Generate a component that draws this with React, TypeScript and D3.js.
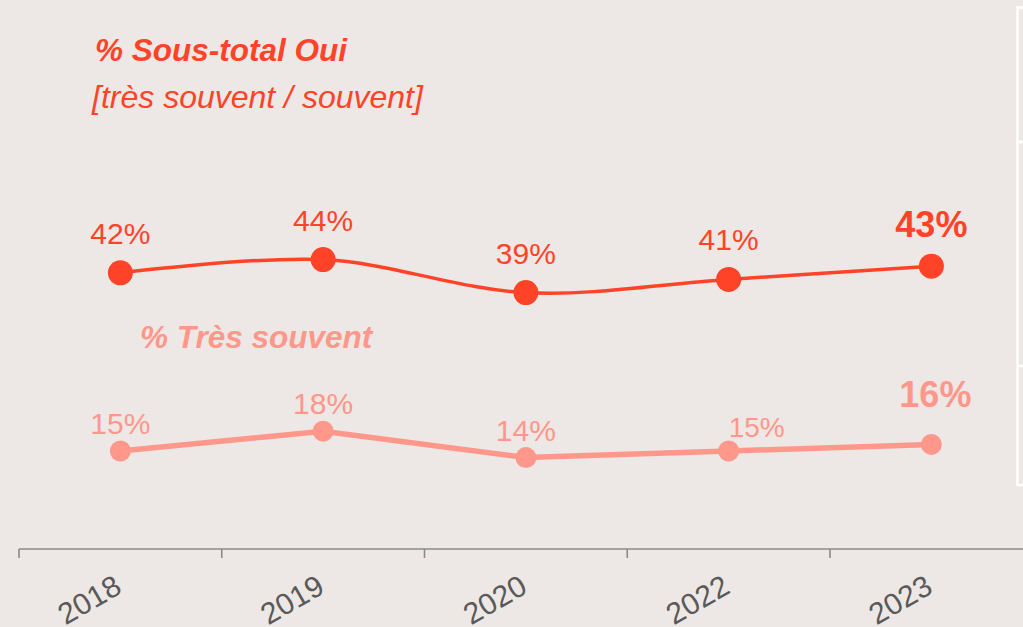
import React from "react";
import * as d3 from "d3";

const years = ["2018", "2019", "2020", "2022", "2023"];
const sousTotalOui = [42, 44, 39, 41, 43];
const tresSouvent = [15, 18, 14, 15, 16];
const title1 = "% Sous-total Oui";
const title2 = "[très souvent / souvent]";
const title3 = "% Très souvent";

const W = 1023;
const H = 627;
const BG = "#EDE8E5";
const RED = "#FF4328";
const SALMON = "#FF978A";
const FONT = "'Liberation Sans', Arial, sans-serif";

export default function App() {
  const x = d3.scaleBand<string>().domain(years).range([19, 19 + 5 * 202.75]).padding(0);
  const y = d3.scaleLinear().domain([0, 50]).range([550, 220]);
  const cx = (d: string) => (x(d) ?? 0) + x.bandwidth() / 2;

  const smooth = d3
    .line<number>()
    .x((_, i) => cx(years[i]))
    .y((d) => y(d))
    .curve(d3.curveCardinal.tension(0));
  const straight = d3
    .line<number>()
    .x((_, i) => cx(years[i]))
    .y((d) => y(d));

  const last = years.length - 1;
  const axisY = 549;
  const ticks = [...years.map((d) => x(d) ?? 0), (x(years[last]) ?? 0) + x.bandwidth()];

  return (
    <svg width={W} height={H} style={{ position: "fixed", left: 0, top: 0 }}>
      <rect x={0} y={0} width={W} height={H} fill={BG} />
      {/* right-edge frame */}
      <rect x={1017.5} y={7.5} width={20} height={477.5} fill="none" stroke="#ffffff" strokeWidth={2.5} />
      <line x1={1017.5} x2={1030} y1={142} y2={142} stroke="#ffffff" strokeWidth={3} />
      <line x1={1017.5} x2={1030} y1={366} y2={366} stroke="#ffffff" strokeWidth={2.5} />

      {/* titles */}
      <text x={95} y={61} fill={RED} fontFamily={FONT} fontSize={31.5} fontWeight="bold" fontStyle="italic">
        {title1}
      </text>
      <text x={92} y={108} fill={RED} fontFamily={FONT} fontSize={32} fontStyle="italic">
        {title2}
      </text>
      <text x={140} y={348} fill={SALMON} fontFamily={FONT} fontSize={31.5} fontWeight="bold" fontStyle="italic">
        {title3}
      </text>

      {/* axis */}
      <line x1={19} x2={W} y1={axisY} y2={axisY} stroke="#8a8a8a" strokeWidth={1.6} />
      {ticks.map((t, i) => (
        <line key={i} x1={t} x2={t} y1={axisY} y2={axisY + 9} stroke="#8a8a8a" strokeWidth={1.6} />
      ))}
      {years.map((d) => (
        <text
          key={d}
          transform={`translate(${cx(d) + 3},${592}) rotate(-30)`}
          textAnchor="end"
          fill="#595959"
          fontFamily={FONT}
          fontSize={30}
        >
          {d}
        </text>
      ))}

      {/* Sous-total Oui */}
      <path d={smooth(sousTotalOui) ?? ""} fill="none" stroke={RED} strokeWidth={3.5} />
      {sousTotalOui.map((v, i) => (
        <circle key={i} cx={cx(years[i])} cy={y(v)} r={12.5} fill={RED} />
      ))}
      {sousTotalOui.map((v, i) => (
        <text
          key={i}
          x={cx(years[i])}
          y={y(v) - 29}
          textAnchor="middle"
          fill={RED}
          fontFamily={FONT}
          fontSize={i === last ? 36 : 30}
          fontWeight={i === last ? "bold" : "normal"}
        >
          {v}%
        </text>
      ))}

      {/* Très souvent */}
      <path d={straight(tresSouvent) ?? ""} fill="none" stroke={SALMON} strokeWidth={5.5} />
      {tresSouvent.map((v, i) => (
        <circle key={i} cx={cx(years[i])} cy={y(v)} r={10.5} fill={SALMON} />
      ))}
      {tresSouvent.map((v, i) => (
        <text
          key={i}
          x={cx(years[i]) + (i === last ? 4 : 0)}
          y={y(v) - (i === last ? 37 : i === 3 ? 14 : 17)}
          textAnchor={i === 3 ? "start" : "middle"}
          fill={SALMON}
          fontFamily={FONT}
          fontSize={i === last ? 36 : i === 3 ? 28 : 30}
          fontWeight={i === last ? "bold" : "normal"}
        >
          {v}%
        </text>
      ))}
    </svg>
  );
}
